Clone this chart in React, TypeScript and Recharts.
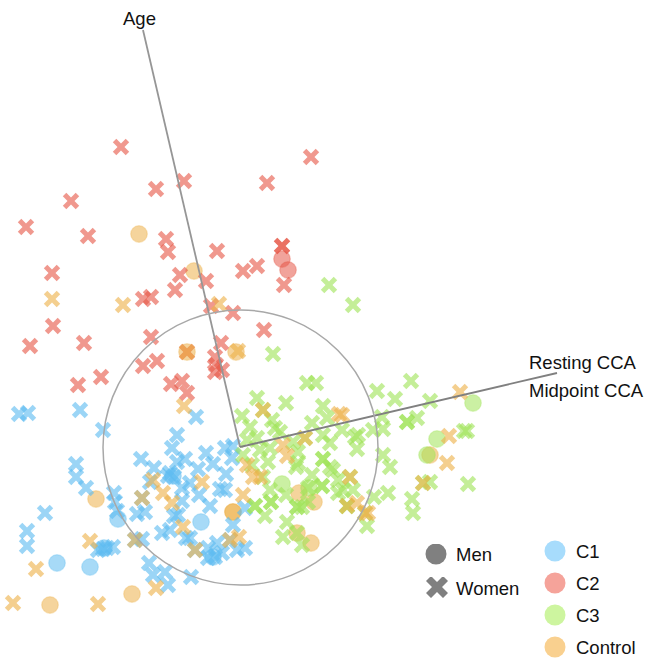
import { ScatterChart, Scatter, XAxis, YAxis, ReferenceDot } from 'recharts';

const WIDTH = 646;
const HEIGHT = 661;

const COLORS = {
  c1: '#5ebcf0',
  c2: '#e65849',
  c3: '#a0e458',
  control: '#edb14a',
};

// scores
const c1Men = [[118, 519], [57, 563], [90, 567], [201, 522], [213, 557], [173, 476], [104, 548]];
const c1Women = [
  [19, 414], [28, 413], [80, 410], [103, 430], [76, 464], [76, 477], [86, 488], [45, 513], [27, 531], [27, 546],
  [114, 493], [115, 502], [117, 511], [98, 550], [103, 549], [107, 548], [113, 547], [196, 417], [177, 435],
  [172, 448], [141, 459], [154, 468], [185, 459], [177, 462], [206, 453], [225, 448], [233, 446], [232, 458],
  [213, 464], [198, 469], [226, 474], [150, 482], [170, 473], [174, 477], [168, 476], [190, 483], [182, 488],
  [220, 489], [225, 490], [199, 495], [210, 506], [182, 501], [142, 498], [137, 514], [145, 512], [174, 516],
  [178, 515], [162, 533], [170, 530], [186, 538], [190, 538], [233, 525], [208, 548], [217, 543], [208, 558],
  [215, 557], [222, 553], [237, 550], [245, 548], [149, 563], [153, 575], [165, 572], [168, 585], [191, 577],
  [142, 539], [135, 540], [195, 550], [230, 540], [245, 508],
];

const c2Men = [[282, 259], [288, 270]];
const c2Women = [
  [121, 147], [156, 189], [184, 181], [71, 201], [26, 227], [88, 236], [166, 239], [168, 252], [180, 275],
  [52, 273], [175, 290], [143, 299], [151, 297], [311, 157], [267, 183], [282, 246], [282, 246], [217, 251],
  [257, 266], [243, 271], [284, 285], [206, 281], [211, 306], [233, 313], [264, 330], [151, 337], [221, 343],
  [215, 357], [53, 326], [30, 346], [84, 343], [157, 361], [143, 366], [101, 377], [78, 385], [171, 384],
  [182, 381], [187, 393], [216, 365], [222, 370], [215, 372], [187, 352],
];

const c3Men = [[282, 484], [473, 403], [437, 439], [427, 455], [309, 488]];
const c3Women = [
  [329, 285], [353, 305], [273, 354], [307, 383], [316, 383], [257, 398], [286, 403], [323, 406], [242, 416],
  [312, 423], [327, 418], [250, 427], [272, 420], [275, 428], [280, 432], [257, 438], [247, 440], [323, 435],
  [330, 443], [342, 430], [293, 442], [270, 448], [260, 450], [298, 452], [268, 462], [323, 459], [323, 459],
  [330, 467], [298, 463], [243, 455], [252, 465], [263, 410], [305, 438], [296, 467], [263, 477], [270, 490],
  [255, 506], [255, 506], [271, 502], [271, 502], [286, 495], [265, 516], [297, 507], [297, 507], [302, 507],
  [308, 488], [312, 475], [322, 486], [322, 486], [333, 470], [338, 480], [338, 493], [287, 522], [283, 537],
  [297, 533], [302, 545], [308, 502], [411, 381], [377, 391], [395, 399], [430, 401], [382, 417], [373, 430],
  [383, 429], [407, 422], [407, 422], [417, 418], [464, 431], [467, 431], [355, 437], [358, 435], [357, 449],
  [383, 455], [390, 467], [468, 484], [430, 482], [388, 493], [374, 497], [412, 499], [413, 513], [367, 526],
  [353, 490], [343, 490], [350, 477], [347, 506], [347, 506], [423, 483], [365, 513],
];

const controlMen = [
  [139, 234], [194, 271], [187, 352], [236, 352], [96, 499], [50, 605], [132, 594], [233, 512], [233, 512],
  [299, 493], [314, 502], [297, 533], [311, 543], [430, 455],
];
const controlWomen = [
  [52, 299], [123, 305], [219, 304], [238, 351], [187, 352], [184, 406], [90, 541], [36, 569], [13, 603],
  [98, 604], [153, 480], [163, 493], [172, 503], [202, 482], [243, 495], [183, 527], [156, 588], [239, 537],
  [142, 498], [135, 540], [195, 550], [230, 540], [263, 410], [305, 438], [339, 414], [283, 445], [287, 456],
  [247, 465], [253, 477], [260, 477], [350, 477], [347, 506], [423, 483], [365, 513], [460, 392], [449, 436],
  [447, 463], [368, 513], [357, 503], [342, 415],
];

const origin = [240, 447];
const ageLoading = [origin, [143, 30]];
const ccaLoading = [origin, [557, 373]];

const loadingLabels = [
  { name: 'Age', at: [123, 18] },
  { name: 'Resting CCA', at: [529, 362] },
  { name: 'Midpoint CCA', at: [529, 390] },
];

const sexLegend = [
  { name: 'Men', kind: 'circle', top: 544 },
  { name: 'Women', kind: 'cross', top: 577 },
];
const groupLegend = [
  { name: 'C1', color: '#a7dcfc', top: 540 },
  { name: 'C2', color: '#f5a39a', top: 572 },
  { name: 'C3', color: '#cdf59f', top: 604 },
  { name: 'Control', color: '#f9d08f', top: 636 },
];

const FONT_FAMILY = '"Liberation Sans", Arial, sans-serif';
const FONT_SIZE = 18.5;

const toPoints = (rows: number[][]) => rows.map(([x, y]) => ({ x, y }));

function crossPath(cx: number, cy: number, r: number, w: number) {
  const a = r - w;
  return (
    `M${cx - r} ${cy - a}L${cx - a} ${cy - r}L${cx} ${cy - w}L${cx + a} ${cy - r}L${cx + r} ${cy - a}` +
    `L${cx + w} ${cy}L${cx + r} ${cy + a}L${cx + a} ${cy + r}L${cx} ${cy + w}L${cx - a} ${cy + r}` +
    `L${cx - r} ${cy + a}L${cx - w} ${cy}Z`
  );
}

const Cross = (color: string) => (props: any) => (
  <path d={crossPath(props.cx, props.cy, 8.2, 3.5)} fill={color} fillOpacity={0.62} />
);

const Dot = (color: string) => (props: any) => (
  <circle cx={props.cx} cy={props.cy} r={8.3} fill={color} fillOpacity={0.55} stroke={color} strokeOpacity={0.35} strokeWidth={1.2} />
);

const noShape = () => <g />;

const font = { fontFamily: FONT_FAMILY, fontSize: FONT_SIZE, color: '#111' };

function KeyPanel() {
  return (
    <>
      {sexLegend.map((item) => (
        <div key={item.name} style={{ position: 'absolute', left: 425, top: item.top }}>
          <svg width={24} height={24} style={{ position: 'absolute', left: 0, top: 0 }}>
            {item.kind === 'circle' ? (
              <circle cx={11} cy={10} r={10.5} fill="#808080" />
            ) : (
              <path d={crossPath(12, 10, 11, 5)} fill="#808080" />
            )}
          </svg>
          <span style={{ ...font, position: 'absolute', left: 31, top: item.kind === 'circle' ? 0 : 1, whiteSpace: 'nowrap' }}>{item.name}</span>
        </div>
      ))}
      {groupLegend.map((item) => (
        <div key={item.name} style={{ position: 'absolute', left: 544, top: item.top }}>
          <svg width={24} height={24} style={{ position: 'absolute', left: 0, top: 0 }}>
            <circle cx={11} cy={11} r={10.5} fill={item.color} />
          </svg>
          <span style={{ ...font, position: 'absolute', left: 32, top: 1, whiteSpace: 'nowrap' }}>{item.name}</span>
        </div>
      ))}
    </>
  );
}

export default function App() {
  return (
    <div style={{ position: 'absolute', left: 0, top: 0, width: WIDTH, height: HEIGHT, background: '#fff' }}>
      <ScatterChart width={WIDTH} height={HEIGHT} margin={{ top: 0, right: 0, bottom: 0, left: 0 }}>
        <XAxis type="number" dataKey="x" domain={[0, WIDTH]} hide />
        <YAxis type="number" dataKey="y" domain={[0, HEIGHT]} reversed hide />

        <Scatter data={toPoints(controlMen)} shape={Dot(COLORS.control)} isAnimationActive={false} />
        <Scatter data={toPoints(c1Men)} shape={Dot(COLORS.c1)} isAnimationActive={false} />
        <Scatter data={toPoints(c2Men)} shape={Dot(COLORS.c2)} isAnimationActive={false} />
        <Scatter data={toPoints(c3Men)} shape={Dot(COLORS.c3)} isAnimationActive={false} />
        <Scatter data={toPoints(c1Women)} shape={Cross(COLORS.c1)} isAnimationActive={false} />
        <Scatter data={toPoints(c2Women)} shape={Cross(COLORS.c2)} isAnimationActive={false} />
        <Scatter data={toPoints(c3Women)} shape={Cross(COLORS.c3)} isAnimationActive={false} />
        <Scatter data={toPoints(controlWomen)} shape={Cross(COLORS.control)} isAnimationActive={false} />

        <Scatter data={toPoints(ageLoading)} line={{ stroke: '#969696', strokeWidth: 1.8 }} shape={noShape} isAnimationActive={false} />
        <Scatter data={toPoints(ccaLoading)} line={{ stroke: '#808080', strokeWidth: 1.8 }} shape={noShape} isAnimationActive={false} />

        <ReferenceDot x={240.5} y={447.5} r={137.5} fill="none" stroke="#a8a8a8" strokeWidth={1.5} ifOverflow="visible" />
        {loadingLabels.map((item) => (
          <ReferenceDot
            key={item.name}
            x={item.at[0]}
            y={item.at[1]}
            r={0}
            fill="none"
            stroke="none"
            ifOverflow="visible"
            label={{ value: item.name, position: 'right', offset: 0, fill: '#111', fontSize: FONT_SIZE, fontFamily: FONT_FAMILY }}
          />
        ))}
      </ScatterChart>
      <KeyPanel />
    </div>
  );
}
